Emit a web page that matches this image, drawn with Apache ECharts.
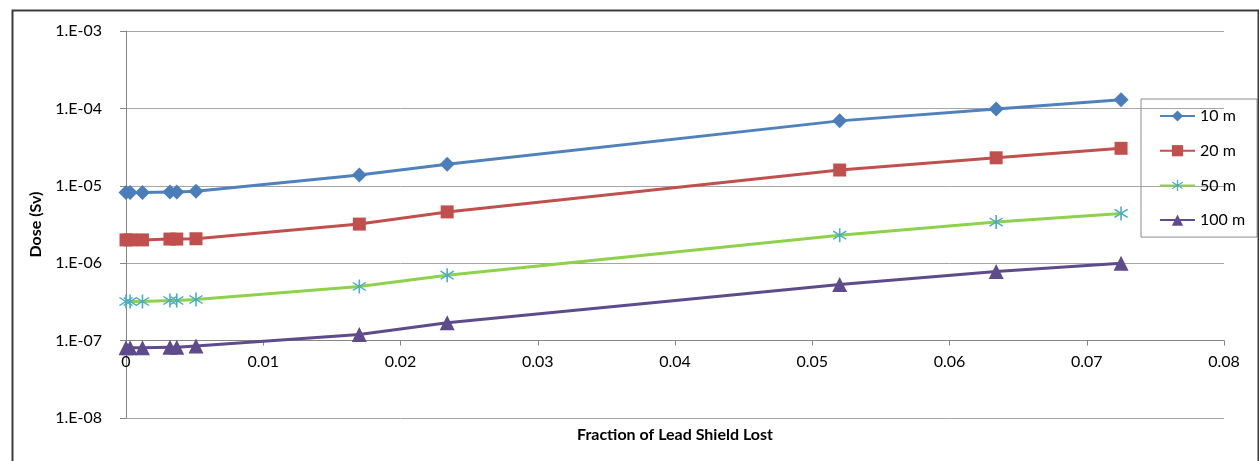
<!DOCTYPE html>
<html>
<head>
<meta charset="utf-8">
<script src="https://cdn.jsdelivr.net/npm/echarts@6/dist/echarts.min.js"></script>
<style>
html,body{margin:0;padding:0;background:#fff;}
#c{width:1259px;height:461px;}
</style>
</head>
<body>
<div id="c"></div>
<script>
const fractionLost = [0, 0.0003, 0.0012, 0.0032, 0.0037, 0.0051, 0.017, 0.0234, 0.052, 0.0634, 0.0725];
const dose10m  = [8.2e-6, 8.2e-6, 8.2e-6, 8.3e-6, 8.3e-6, 8.5e-6, 1.38e-5, 1.9e-5, 6.9e-5, 9.8e-5, 1.29e-4];
const dose20m  = [2.0e-6, 2.0e-6, 2.0e-6, 2.05e-6, 2.05e-6, 2.07e-6, 3.2e-6, 4.6e-6, 1.6e-5, 2.3e-5, 3.05e-5];
const dose50m  = [3.2e-7, 3.2e-7, 3.2e-7, 3.3e-7, 3.3e-7, 3.4e-7, 5.0e-7, 7.0e-7, 2.3e-6, 3.4e-6, 4.4e-6];
const dose100m = [8.1e-8, 8.1e-8, 8.1e-8, 8.2e-8, 8.2e-8, 8.5e-8, 1.2e-7, 1.7e-7, 5.3e-7, 7.8e-7, 1.0e-6];
const seriesNames = ['10 m', '20 m', '50 m', '100 m'];
const yTickLabels = ['1.E-08', '1.E-07', '1.E-06', '1.E-05', '1.E-04', '1.E-03'];
const yTickExponents = [-8, -7, -6, -5, -4, -3];

function asteriskPath() {
  const c = 50, L = 50, w = 5;
  const angles = [90, 35, 145];
  let p = '';
  angles.forEach(a => {
    const r = a * Math.PI / 180;
    const dx = Math.cos(r), dy = Math.sin(r);
    const nx = -dy, ny = dx;
    const pts = [
      [c + L*dx + w*nx, c + L*dy + w*ny],
      [c + L*dx - w*nx, c + L*dy - w*ny],
      [c - L*dx - w*nx, c - L*dy - w*ny],
      [c - L*dx + w*nx, c - L*dy + w*ny]
    ];
    p += 'M' + pts.map(q => q[0].toFixed(2) + ' ' + q[1].toFixed(2)).join(' L') + ' Z ';
  });
  return 'path://' + p;
}

function pairs(ys) { return fractionLost.map((x, i) => [x, ys[i]]); }

const FONT = 'Lato, "Liberation Sans", Arial, sans-serif';
const chart = echarts.init(document.getElementById('c'), null, {renderer: 'canvas'});
const decadePx = (418 - 31) / 5;

chart.setOption({
  animation: false,
  textStyle: {fontFamily: FONT},
  graphic: [{
    type: 'rect', left: 10, top: 8,
    shape: {width: 1246, height: 470},
    style: {fill: 'none', stroke: '#3a3a3a', lineWidth: 2},
    z: 100
  }],
  grid: {left: 126, right: 35, top: 31, bottom: 43, containLabel: false},
  legend: {
    orient: 'vertical', left: 1141, top: 99,
    borderColor: '#8c8c8c', borderWidth: 1,
    padding: [9, 12, 9, 18],
    itemWidth: 35, itemHeight: 14, itemGap: 18.7,
    textStyle: {fontFamily: FONT, fontSize: 16, color: '#000'},
    data: seriesNames
  },
  xAxis: {
    type: 'value', min: 0, max: 0.08, interval: 0.01,
    offset: -decadePx,
    name: 'Fraction of Lead Shield Lost', nameLocation: 'middle', nameGap: 86,
    nameTextStyle: {fontFamily: FONT, fontSize: 16, fontWeight: 'bold', color: '#000'},
    axisLine: {show: true, lineStyle: {color: '#868686', width: 1}},
    axisTick: {show: true, length: 5, lineStyle: {color: '#868686'}},
    axisLabel: {margin: 13, fontSize: 16, color: '#000', fontFamily: FONT,
      formatter: v => (Math.round(v * 100) / 100).toString()},
    splitLine: {show: false}
  },
  yAxis: {
    type: 'log', logBase: 10, min: 1e-8, max: 1e-3,
    name: 'Dose (Sv)', nameLocation: 'middle', nameGap: 80, nameRotate: 90,
    nameTextStyle: {fontFamily: FONT, fontSize: 16, fontWeight: 'bold', color: '#000'},
    axisLine: {show: true, lineStyle: {color: '#868686', width: 1}},
    axisTick: {show: true, length: 6, lineStyle: {color: '#868686'}},
    axisLabel: {margin: 24, fontSize: 16, color: '#000', fontFamily: FONT,
      formatter: v => {
        const e = Math.round(Math.log10(v));
        const i = yTickExponents.indexOf(e);
        return i >= 0 ? yTickLabels[i] : '';
      }},
    splitLine: {show: true, lineStyle: {color: '#a6a6a6', width: 1}}
  },
  series: [
    {name: seriesNames[0], type: 'line', data: pairs(dose10m), symbol: 'diamond', symbolSize: 15,
      lineStyle: {color: '#4f81bd', width: 3}, itemStyle: {color: '#4a7ebb'}, z: 4},
    {name: seriesNames[1], type: 'line', data: pairs(dose20m), symbol: 'rect', symbolSize: 13,
      lineStyle: {color: '#c0504d', width: 3}, itemStyle: {color: '#c0504d'}, z: 3},
    {name: seriesNames[2], type: 'line', data: pairs(dose50m), symbol: asteriskPath(), symbolSize: 14,
      lineStyle: {color: '#8ed14b', width: 3}, itemStyle: {color: '#4bacc6'}, z: 2},
    {name: seriesNames[3], type: 'line', data: pairs(dose100m), symbol: 'triangle', symbolSize: 15,
      lineStyle: {color: '#5f4b8b', width: 3}, itemStyle: {color: '#5f4b8b'}, z: 1}
  ]
});
</script>
</body>
</html>
